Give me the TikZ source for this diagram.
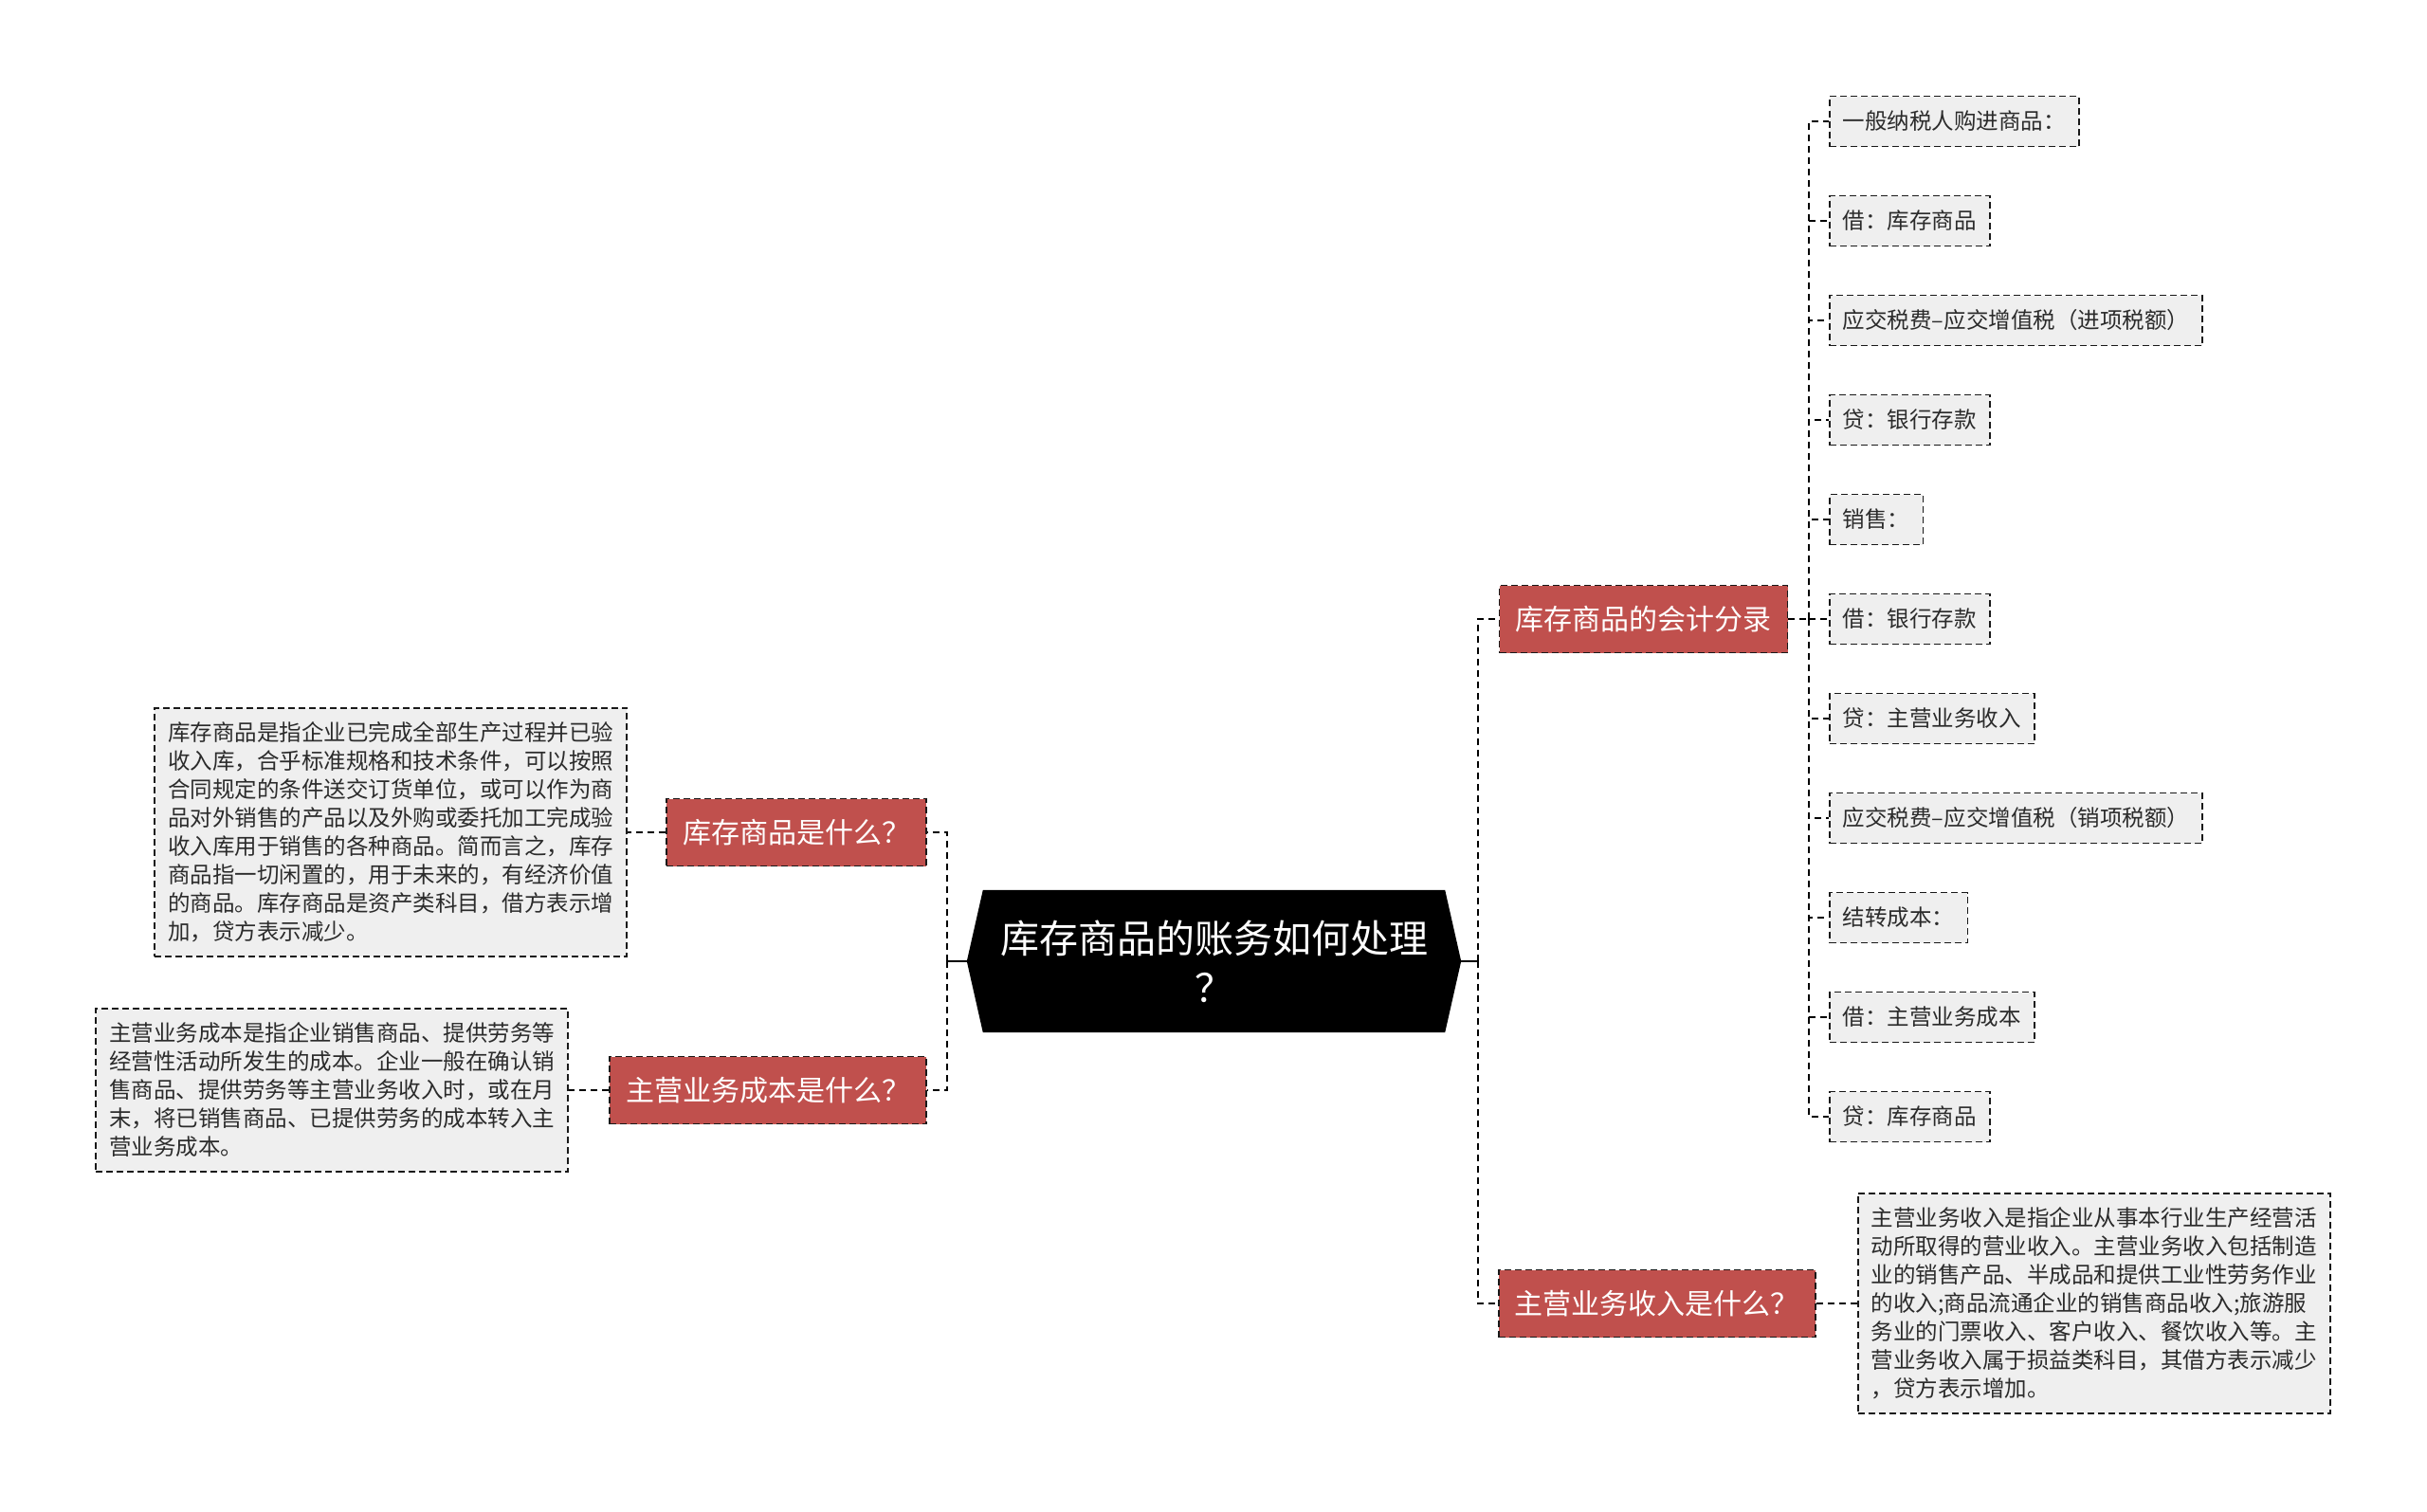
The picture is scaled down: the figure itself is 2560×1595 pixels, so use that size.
\documentclass[tikz,border=0pt]{standalone}
\usepackage{fontspec}
\newfontfamily\cjk{Noto Sans CJK SC}
\usetikzlibrary{backgrounds}
\definecolor{topicred}{HTML}{C0504D}
\definecolor{leafgray}{HTML}{EFEFEF}
\definecolor{inkgray}{HTML}{2B2B2B}

\begin{document}
\begin{tikzpicture}[x=1pt,y=1pt,
        link/.style={line width=2pt, draw=black, dash pattern=on 7pt off 5pt},
        topic/.style={fill=topicred, draw=black!90, line width=1.8pt, dash pattern=on 7pt off 4pt,
            text=white, minimum height=71pt, inner xsep=17pt, font=\cjk\fontsize{30}{36}\selectfont},
        leaf/.style={fill=leafgray, draw=black!90, line width=1.8pt, dash pattern=on 7pt off 4pt,
            text=inkgray, minimum height=53pt, inner xsep=14pt, font=\cjk\fontsize{23.5}{30}\selectfont},
        note/.style={leaf, align=left, inner ysep=15pt}]
        \useasboundingbox (0,0) rectangle (2560,-1595);
        % root
        \node[text=white, align=center, minimum width=521pt, minimum height=150pt, inner sep=0pt,
            font=\cjk\fontsize{41}{52}\selectfont] (root) at (1280.5,-1014) {库存商品的账务如何处理\\？};
        \begin{scope}[on background layer]
            \fill[black] ([xshift=17pt]root.north west) -- ([xshift=-17pt]root.north east) -- (root.east)
                -- ([xshift=-17pt]root.south east) -- ([xshift=17pt]root.south west) -- (root.west) -- cycle;
        \end{scope}
        % junctions
        \coordinate (lj) at (999,-1014);
        \coordinate (rj) at (1559,-1014);
        \coordinate (ej) at (1908,-653);
        % left side
        \node[topic, anchor=east] (what) at (978,-878) {库存商品是什么？};
        \node[topic, anchor=east] (cost) at (978,-1150) {主营业务成本是什么？};
        \node[note, anchor=east] (whatnote) at (662,-878) {库存商品是指企业已完成全部生产过程并已验\\收入库，合乎标准规格和技术条件，可以按照\\合同规定的条件送交订货单位，或可以作为商\\品对外销售的产品以及外购或委托加工完成验\\收入库用于销售的各种商品。简而言之，库存\\商品指一切闲置的，用于未来的，有经济价值\\的商品。库存商品是资产类科目，借方表示增\\加，贷方表示减少。};
        \node[note, anchor=east] (costnote) at (600,-1150) {主营业务成本是指企业销售商品、提供劳务等\\经营性活动所发生的成本。企业一般在确认销\\售商品、提供劳务等主营业务收入时，或在月\\末，将已销售商品、已提供劳务的成本转入主\\营业务成本。};
        % right side
        \node[topic] (entry) at (1733.5,-653) {库存商品的会计分录};
        \node[topic, anchor=west] (income) at (1580,-1375) {主营业务收入是什么？};
        \node[note, anchor=west] (incomenote) at (1959,-1375) {主营业务收入是指企业从事本行业生产经营活\\动所取得的营业收入。主营业务收入包括制造\\业的销售产品、半成品和提供工业性劳务作业\\的收入;商品流通企业的销售商品收入;旅游服\\务业的门票收入、客户收入、餐饮收入等。主\\营业务收入属于损益类科目，其借方表示减少\\，贷方表示增加。};
        \foreach \i/\t in {1/一般纳税人购进商品：, 2/借：库存商品, 3/应交税费–应交增值税（进项税额）,
            4/贷：银行存款, 5/销售：, 6/借：银行存款, 7/贷：主营业务收入,
            8/应交税费–应交增值税（销项税额）, 9/结转成本：, 10/借：主营业务成本, 11/贷：库存商品}
        {
            \node[leaf, anchor=west] (e\i) at (1929,{-128-105*(\i-1)}) {\t};
        }
        % connectors
        \draw[line width=2pt] (root.west) -- (lj);
        \draw[line width=2pt] (root.east) -- (rj);
        \draw[link] (lj) |- (what.east);
        \draw[link] (lj) |- (cost.east);
        \draw[link] (rj) |- (entry.west);
        \draw[link] (rj) |- (income.west);
        \draw[link] (what.west) -- (whatnote.east);
        \draw[link] (cost.west) -- (costnote.east);
        \draw[link] (income.east) -- (incomenote.west);
        \draw[link] (entry.east) -- (ej);
        \foreach \i in {1,...,11}
        {
            \draw[link] (ej) |- (e\i.west);
        }
    \end{tikzpicture}
\end{document}
